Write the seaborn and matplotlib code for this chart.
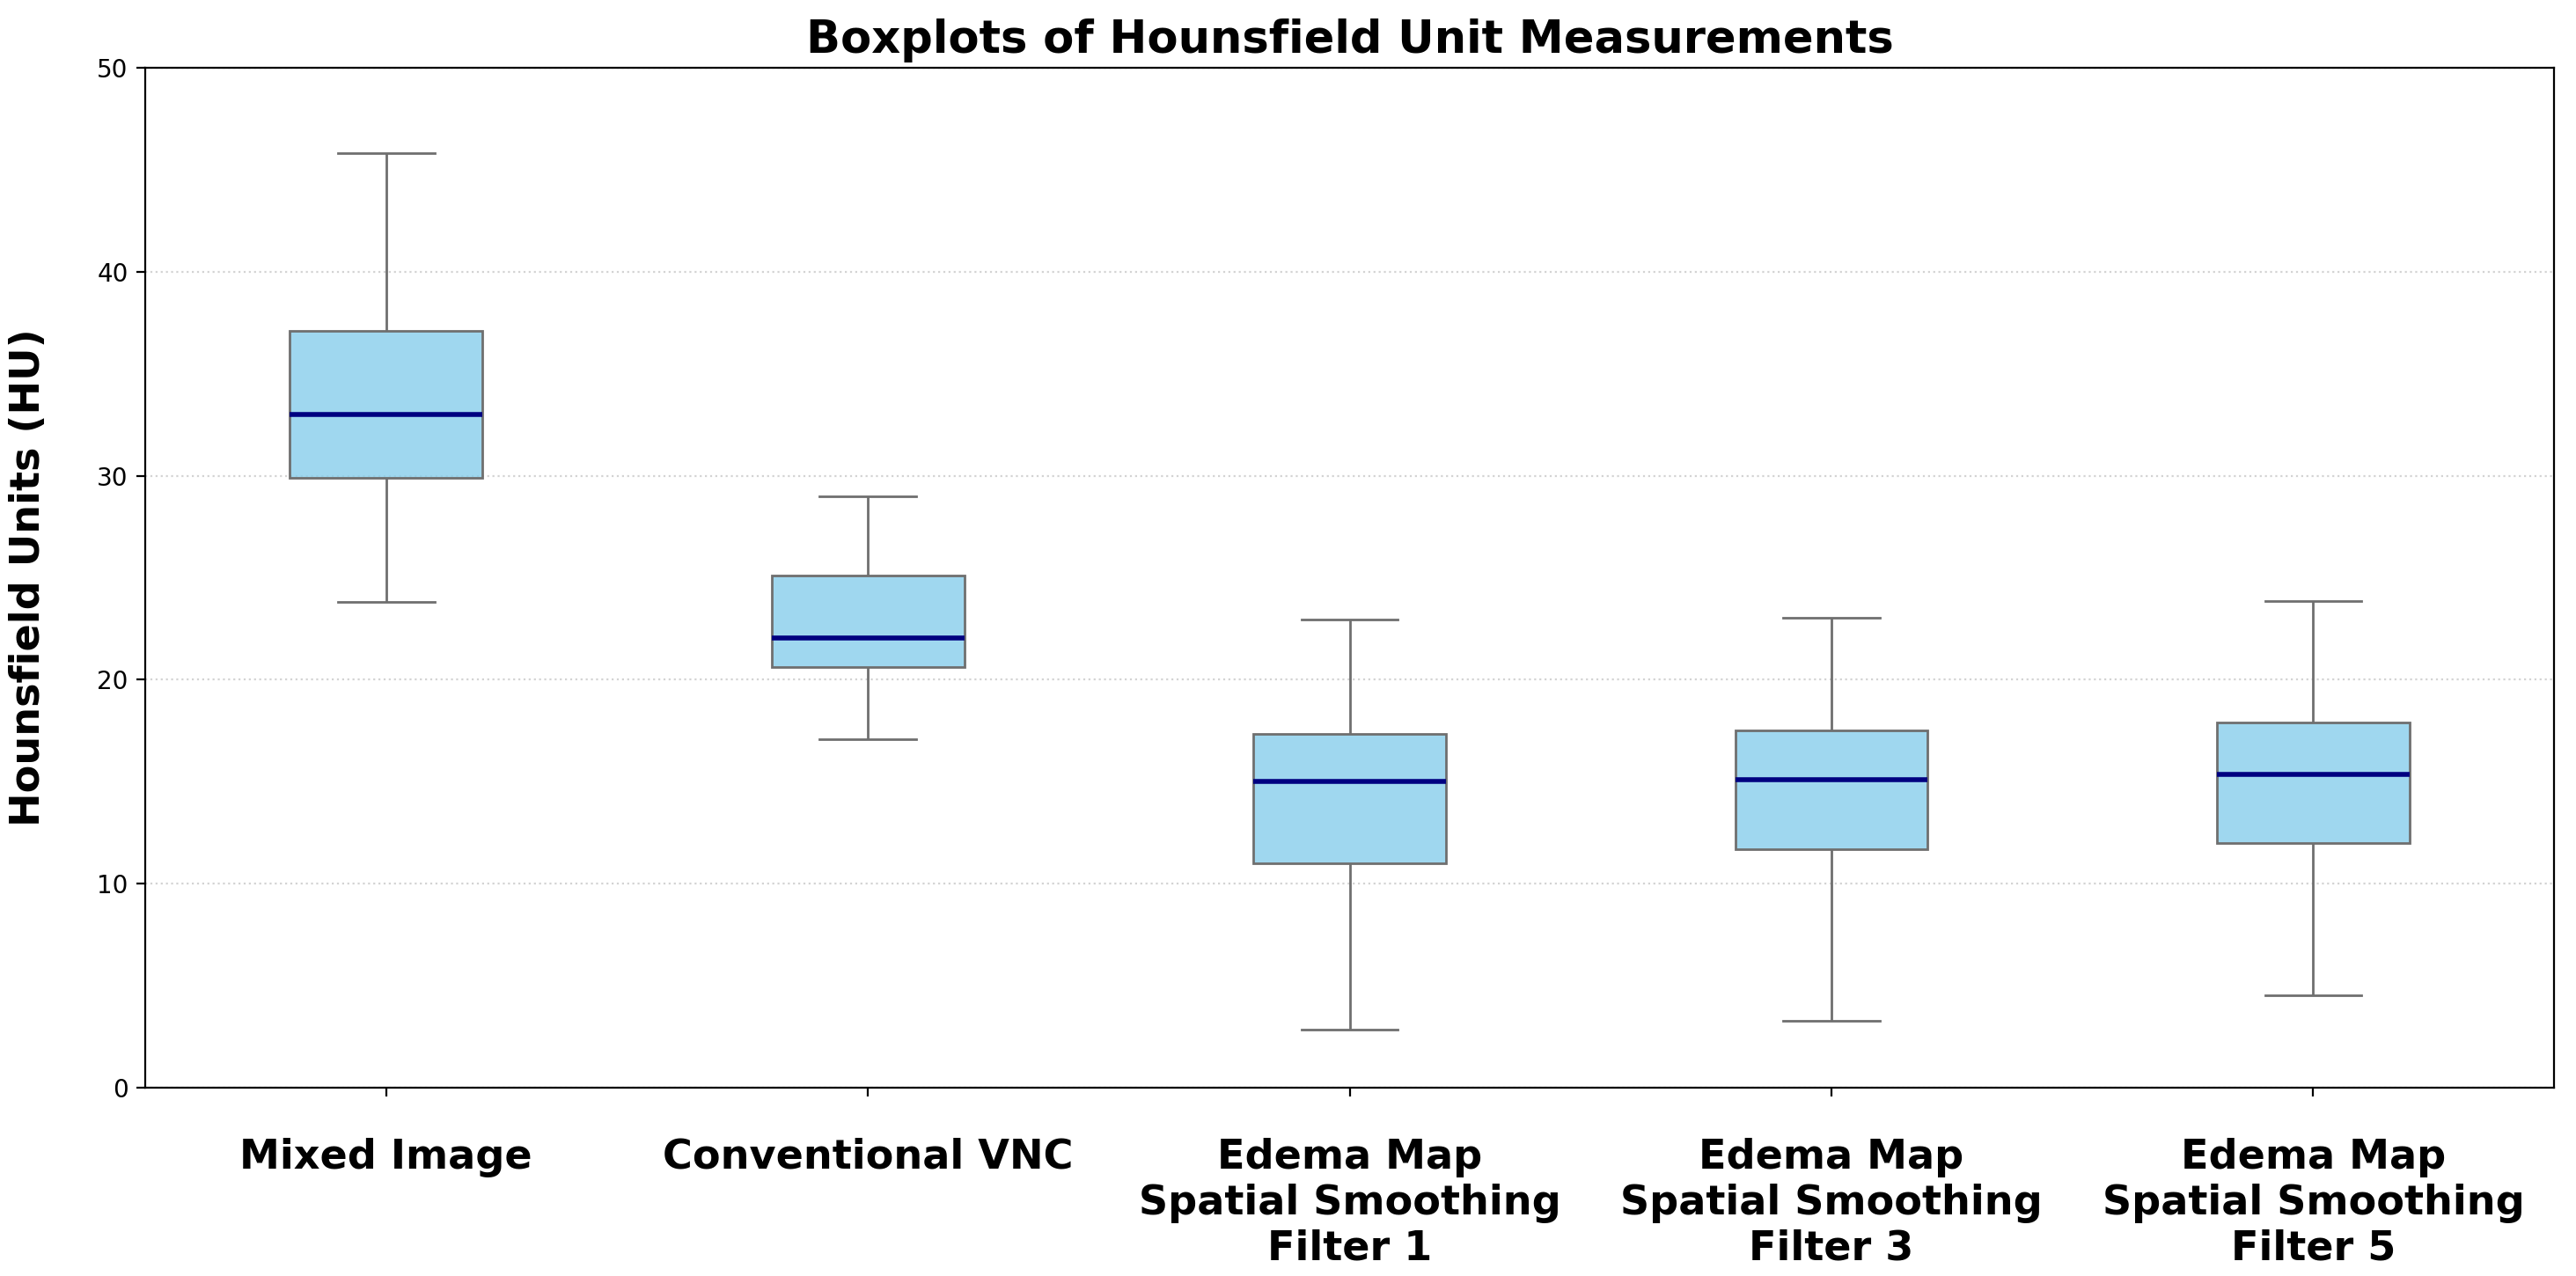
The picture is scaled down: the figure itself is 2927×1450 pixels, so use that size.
import seaborn as sns
import matplotlib.pyplot as plt
import numpy as np
import pandas as pd
from matplotlib.colors import to_rgba

# values (min, q1, median, q3, max per group)
groups = ['Mixed Image', 'Conventional VNC',
          'Edema Map\nSpatial Smoothing\nFilter 1',
          'Edema Map\nSpatial Smoothing\nFilter 3',
          'Edema Map\nSpatial Smoothing\nFilter 5']
mixed = [23.8, 29.9, 33.0, 37.1, 45.8]
conventional = [17.1, 20.6, 22.05, 25.1, 29.0]
edema_f1 = [2.85, 11.02, 15.03, 17.35, 22.96]
edema_f3 = [3.26, 11.68, 15.11, 17.52, 23.03]
edema_f5 = [4.53, 11.98, 15.37, 17.9, 23.84]

values = [mixed, conventional, edema_f1, edema_f3, edema_f5]
df = pd.DataFrame({
    'group': np.repeat(groups, [len(v) for v in values]),
    'HU': np.concatenate(values),
})

fig, ax = plt.subplots(figsize=(14.635, 7.25), dpi=200)
sns.boxplot(data=df, x='group', y='HU', color='skyblue', width=0.4,
            whis=(0, 100), showfliers=False, saturation=1,
            medianprops={'color': 'navy', 'linewidth': 2}, ax=ax)

# lighter fill like the reference (skyblue with some transparency)
for p in ax.patches:
    p.set_facecolor(to_rgba('skyblue', 0.8))

ax.set_ylim(0, 50)
ax.set_xlim(-0.5, 4.5)
ax.set_title('Boxplots of Hounsfield Unit Measurements', fontsize=18.4, fontweight='bold')
ax.set_xlabel('')
ax.set_ylabel('Hounsfield Units (HU)', fontsize=16.6, fontweight='bold', labelpad=20)
ax.tick_params(axis='x', labelsize=16.6, pad=17)
ax.tick_params(axis='y', labelsize=10)
for lbl in ax.get_xticklabels():
    lbl.set_fontweight('bold')
ax.yaxis.grid(True, linestyle=':', color='lightgray', linewidth=0.8)
ax.set_axisbelow(True)

plt.subplots_adjust(left=0.0564, right=0.9915, top=0.947, bottom=0.1476)
plt.savefig('out.png', dpi=200)
